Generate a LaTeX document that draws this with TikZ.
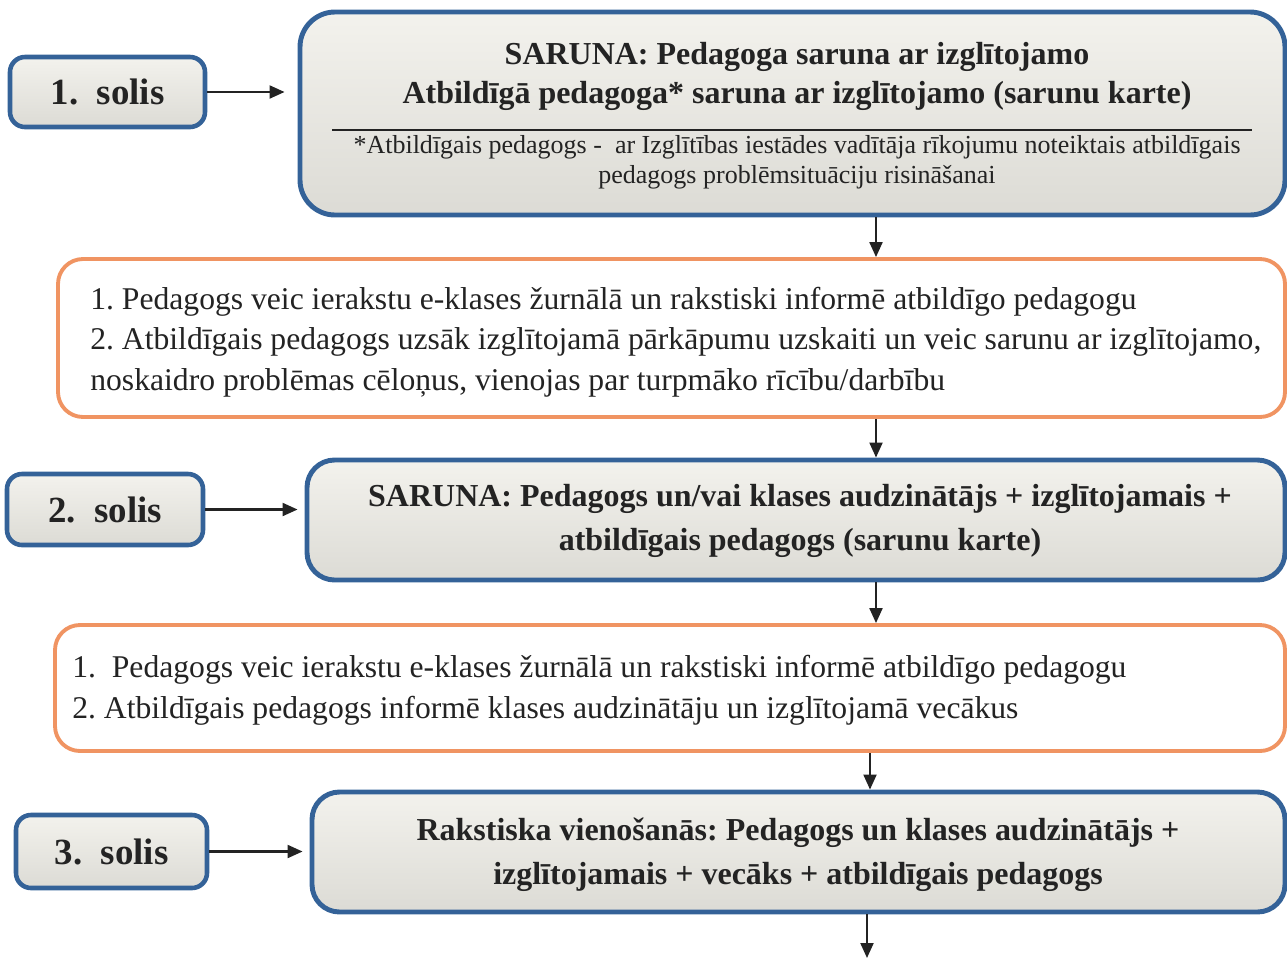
\documentclass[tikz,border=0pt]{standalone}
\usepackage{fontspec}
\setmainfont{Liberation Serif}
\usetikzlibrary{arrows.meta,calc}
\definecolor{boxblue}{RGB}{52,98,152}
\definecolor{boxorange}{RGB}{240,148,98}
\definecolor{boxtop}{RGB}{243,242,237}
\definecolor{boxbot}{RGB}{220,219,213}
\definecolor{ink}{RGB}{35,35,35}
\frenchspacing

\begin{document}
\begin{tikzpicture}[
  stepbox/.style={draw=boxblue, line width=2.6pt, rounded corners=0.3cm, top color=boxtop, bottom color=boxbot, text=ink, font=\fontsize{21}{25}\selectfont\bfseries},
  talkbox/.style={draw=boxblue, line width=2.8pt, rounded corners=0.55cm, top color=boxtop, bottom color=boxbot},
  notebox/.style={draw=boxorange, line width=2.2pt, rounded corners=0.5cm, fill=white},
  arr/.style={-{Triangle[length=0.3cm,width=0.26cm]}, line width=1.2pt, draw=ink},
  bigtxt/.style={text=ink, align=center, font=\fontsize{18.2}{22}\selectfont\bfseries},
  smalltxt/.style={text=ink, align=center, font=\fontsize{14.8}{17}\selectfont},
  plaintxt/.style={text=ink, align=left, anchor=west, inner sep=0pt, font=\fontsize{18}{23.2}\selectfont}
]
\useasboundingbox (0,0) rectangle (25.74,-19.16);

% steps on the left
\node[stepbox, minimum width=3.9cm, minimum height=1.4cm] (s1) at (2.15,-1.84) {1.\ \ solis};
\node[stepbox, minimum width=3.92cm, minimum height=1.42cm] (s2) at (2.10,-10.19) {2.\ \ solis};
\node[stepbox, minimum width=3.82cm, minimum height=1.46cm] (s3) at (2.23,-17.03) {3.\ \ solis};

% talks
\node[talkbox, rounded corners=0.7cm, minimum width=19.7cm, minimum height=4.06cm] (b1) at (15.85,-2.27) {};
\node[bigtxt] (b1txt) at (15.94,-1.53) {SARUNA: Pedagoga saruna ar izglītojamo\\Atbildīgā pedagoga* saruna ar izglītojamo (sarunu karte)};
\draw[ink, line width=0.6pt] (6.64,-2.6) -- (25.04,-2.6);
\node[smalltxt] (b1note) at (15.94,-3.24) {*Atbildīgais pedagogs -\ \ ar Izglītības iestādes vadītāja rīkojumu noteiktais atbildīgais\\pedagogs problēmsituāciju risināšanai};

\node[talkbox, minimum width=19.56cm, minimum height=2.4cm] (b2) at (15.92,-10.40) {};
\node[bigtxt] (b2txt) at (16.0,-10.42) {SARUNA: Pedagogs un/vai klases audzinātājs + izglītojamais +\\[3pt]atbildīgais pedagogs (sarunu karte)};

\node[talkbox, minimum width=19.46cm, minimum height=2.4cm] (b3) at (15.97,-17.04) {};
\node[bigtxt] (b3txt) at (15.96,-17.09) {Rakstiska vienošanās: Pedagogs un klases audzinātājs +\\[3pt]izglītojamais + vecāks + atbildīgais pedagogs};

% notes
\node[notebox, minimum width=24.54cm, minimum height=3.16cm] (o1) at (13.43,-6.76) {};
\node[plaintxt] (o1txt) at (1.8,-6.84) {1. Pedagogs veic ierakstu e-klases žurnālā un rakstiski informē atbildīgo pedagogu\\
2. Atbildīgais pedagogs uzsāk izglītojamā pārkāpumu uzskaiti un veic sarunu ar izglītojamo,\\
noskaidro problēmas cēloņus, vienojas par turpmāko rīcību/darbību};

\node[notebox, minimum width=24.6cm, minimum height=2.52cm] (o2) at (13.40,-13.76) {};
\node[plaintxt] (o2txt) at (1.44,-13.81) {1.\ \ Pedagogs veic ierakstu e-klases žurnālā un rakstiski informē atbildīgo pedagogu\\
2. Atbildīgais pedagogs informē klases audzinātāju un izglītojamā vecākus};

% arrows
\draw[arr, shorten >=0.26cm] (s1.east) -- (b1.west |- s1.east);
\draw[arr, shorten >=0.14cm] (s2.east) -- (b2.west |- s2.east);
\draw[arr, shorten >=0.14cm] (s3.east) -- (b3.west |- s3.east);

\coordinate (c1) at (17.52,0);
\coordinate (c2) at (17.40,0);
\coordinate (cend) at (17.34,-19.16);
\foreach \a/\b/\c in {b1/o1/c1, o1/b2/c1, b2/o2/c1, o2/b3/c2}
  \draw[arr] (\a.south -| \c) -- (\b.north -| \c);
\draw[arr] (b3.south -| cend) -- (cend);
\end{tikzpicture}
\end{document}
